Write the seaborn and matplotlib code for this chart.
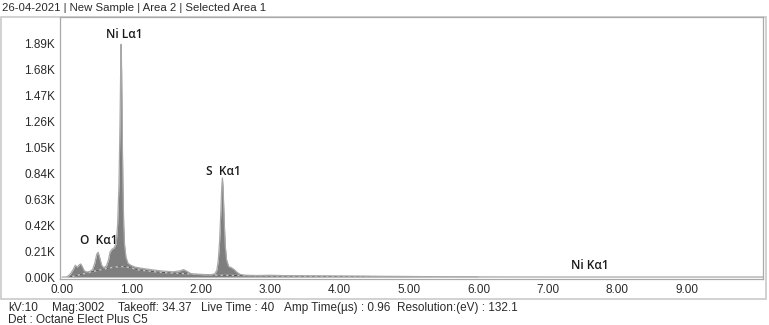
import matplotlib
matplotlib.use("Agg")
import matplotlib.pyplot as plt
from matplotlib import font_manager
from matplotlib.patches import Rectangle
from matplotlib.ticker import FixedLocator, FuncFormatter
import pandas as pd
import seaborn as sns

# EDS spectrum (energy in keV, counts)
energy_kev = [0.00, 0.05, 0.08, 0.12, 0.16, 0.19, 0.22, 0.25, 0.27, 0.29, 0.32, 0.36,
              0.40, 0.44, 0.47, 0.50, 0.52, 0.54, 0.57, 0.60, 0.64, 0.67, 0.69, 0.72,
              0.75, 0.78, 0.80, 0.82, 0.835, 0.845, 0.851, 0.858, 0.866, 0.876, 0.888,
              0.90, 0.92, 0.95, 0.99, 1.05, 1.15, 1.30, 1.45, 1.60, 1.70, 1.75, 1.80,
              1.86, 1.95, 2.05, 2.15, 2.20, 2.23, 2.25, 2.27, 2.29, 2.30, 2.31, 2.32,
              2.335, 2.35, 2.37, 2.40, 2.44, 2.48, 2.52, 2.57, 2.65, 2.80, 3.00, 3.20,
              3.50, 3.80, 4.00, 4.30, 4.60, 5.00, 5.50, 6.00, 7.00, 10.10]
counts = [0, 0, 5, 25, 60, 95, 80, 100, 105, 85, 50, 40,
          45, 60, 110, 185, 200, 160, 95, 75, 90, 140, 200, 225,
          235, 270, 420, 750, 1250, 1700, 1880, 1650, 1200, 760, 420,
          260, 160, 110, 95, 80, 70, 58, 48, 42, 50, 60, 46,
          26, 21, 19, 19, 25, 55, 130, 290, 560, 720, 800, 720,
          470, 260, 140, 85, 75, 60, 38, 20, 14, 12, 14, 11,
          10, 9, 8, 7, 5, 4, 2, 1, 0, 0]

# Bremsstrahlung background fit
bg_energy = [0.10, 0.20, 0.30, 0.45, 0.60, 0.75, 0.90, 1.00, 1.10, 1.40, 1.80, 2.30, 3.00, 4.00, 5.00, 6.00]
bg_counts = [0, 10, 25, 45, 65, 80, 85, 72, 58, 38, 26, 14, 9, 5, 3, 1]

# Peak identifications
peak_labels = ["Ni L\u03b11", "S  K\u03b11", "O  K\u03b11", "Ni K\u03b11"]
peak_label_x = [0.89, 2.32, 0.53, 7.60]
peak_label_y = [1955, 856, 291, 89]

# Axis ticks
x_ticks = [0, 1, 2, 3, 4, 5, 6, 7, 8, 9]
y_ticks = [0, 210, 420, 630, 840, 1050, 1260, 1470, 1680, 1890]

title_text = "26-04-2021 | New Sample | Area 2 | Selected Area 1"
info_items = ["kV:10", "Mag:3002", "Takeoff: 34.37", "Live Time : 40",
              "Amp Time(\u00b5s) : 0.96", "Resolution:(eV) : 132.1"]
det_text = "Det : Octane Elect Plus C5"

sns.set_style("white")

available = {f.name for f in font_manager.fontManager.ttflist}
narrow = "Liberation Sans Narrow" if "Liberation Sans Narrow" in available else "Liberation Sans"
label_font = "Open Sans" if "Open Sans" in available else "DejaVu Sans"
plt.rcParams["font.family"] = [narrow, "DejaVu Sans"]

W, H = 769, 325
fig = plt.figure(figsize=(W / 100, H / 100), dpi=100)
fig.patch.set_facecolor("white")

def fx(px):
    return px / W

def fy(py):
    return 1 - py / H

# outer frame around the chart panel
frame = Rectangle((fx(0.5), fy(299)), fx(766) - fx(0.5), fy(17) - fy(299),
                  transform=fig.transFigure, fill=False, edgecolor="#c9c9c9",
                  linewidth=1.2, zorder=0)
fig.add_artist(frame)

ax = fig.add_axes([fx(60), fy(279), fx(763) - fx(60), fy(17) - fy(279)])

df = pd.DataFrame({"energy": energy_kev, "counts": counts})
fill = ax.fill_between(df["energy"], df["counts"], 0, color="#7e7e7e",
                       linewidth=0, zorder=2)
sns.lineplot(data=df, x="energy", y="counts", ax=ax, color="#a8a8a8",
             linewidth=0.9, zorder=3, estimator=None)

bg = pd.DataFrame({"energy": bg_energy, "counts": bg_counts})
sns.lineplot(data=bg, x="energy", y="counts", ax=ax, color="#c4c4c4",
             linewidth=1.0, zorder=2.5, estimator=None)
dash_line = ax.plot(bg["energy"], bg["counts"], color="#5a5a5a", linewidth=0.8,
                    linestyle=(0, (3, 2)), zorder=2.6)[0]
dash_line.set_clip_path(fill.get_paths()[0], transform=ax.transData)

for txt, x, y in zip(peak_labels, peak_label_x, peak_label_y):
    ax.text(x, y, txt, ha="center", va="center", fontsize=8.6,
            family=[label_font, "DejaVu Sans"], fontweight="semibold",
            color="#1a1a1a", zorder=5)

ax.set_xlim(-0.03, 10.10)
ax.set_ylim(-16, 2100)
ax.xaxis.set_major_locator(FixedLocator(x_ticks))
ax.yaxis.set_major_locator(FixedLocator(y_ticks))
ax.xaxis.set_major_formatter(FuncFormatter(lambda v, p: f"{v:.2f}"))
ax.yaxis.set_major_formatter(FuncFormatter(lambda v, p: f"{v / 1000:.2f}K"))
ax.tick_params(axis="both", labelsize=8.5, colors="#2a2a2a", length=2,
               width=0.6, pad=1.5)
ax.tick_params(axis="both", color="#909090")
ax.set_xlabel("")
ax.set_ylabel("")
for side in ["left", "bottom", "top", "right"]:
    ax.spines[side].set_visible(True)
    ax.spines[side].set_color("#a9a9a9")
    ax.spines[side].set_linewidth(0.9)

fig.text(fx(2), fy(8), title_text, ha="left", va="center", fontsize=8.2,
         family=["Liberation Sans", "DejaVu Sans"], color="#2a2a2a")

info_x = [8, 52, 118, 201, 284, 397]
for txt, x in zip(info_items, info_x):
    fig.text(fx(x), fy(308), txt, ha="left", va="center", fontsize=8.5,
             color="#2a2a2a")
fig.text(fx(8), fy(320), det_text, ha="left", va="center", fontsize=8.5,
         color="#2a2a2a")

fig.savefig("out.png", dpi=100, facecolor="white")
